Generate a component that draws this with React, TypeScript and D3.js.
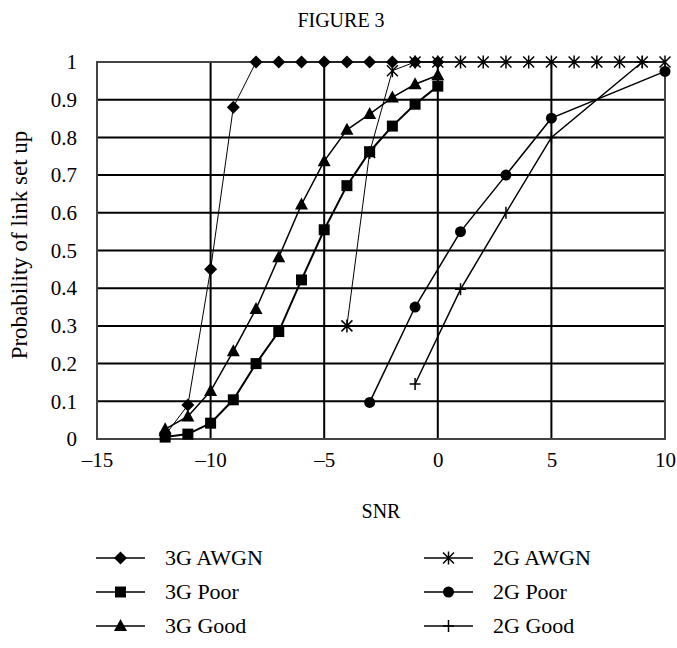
import React, { useEffect, useRef } from "react";
import * as d3 from "d3";

// SNR values and probabilities
const awgn3gX = [-12, -11, -10, -9, -8, -7, -6, -5, -4, -3, -2, -1, 0];
const awgn3gY = [0.01, 0.09, 0.45, 0.88, 1, 1, 1, 1, 1, 1, 1, 1, 1];
const poor3gX = [-12, -11, -10, -9, -8, -7, -6, -5, -4, -3, -2, -1, 0];
const poor3gY = [0.005, 0.013, 0.042, 0.104, 0.2, 0.285, 0.422, 0.555, 0.672, 0.762, 0.83, 0.888, 0.936];
const good3gX = [-12, -11, -10, -9, -8, -7, -6, -5, -4, -3, -2, -1, 0];
const good3gY = [0.026, 0.06, 0.127, 0.233, 0.345, 0.482, 0.622, 0.737, 0.82, 0.862, 0.906, 0.941, 0.965];
const awgn2gX = [-4, -3, -2, -1, 0, 1, 2, 3, 4, 5, 6, 7, 8, 9, 10];
const awgn2gY = [0.3, 0.76, 0.977, 1, 1, 1, 1, 1, 1, 1, 1, 1, 1, 1, 1];
const poor2gX = [-3, -1, 1, 3, 5, 10];
const poor2gY = [0.097, 0.35, 0.55, 0.7, 0.851, 0.975];
const good2gX = [-1, 1, 3, 5, 9];
const good2gY = [0.146, 0.397, 0.6, 0.8, 1];

const seriesNames = ["3G AWGN", "3G Poor", "3G Good", "2G AWGN", "2G Poor", "2G Good"];
const xTicks = [-15, -10, -5, 0, 5, 10];
const yTicks = [0, 0.1, 0.2, 0.3, 0.4, 0.5, 0.6, 0.7, 0.8, 0.9, 1];

const FONT = "'Liberation Serif', 'Times New Roman', serif";

const markerPath = (kind: string) => {
  switch (kind) {
    case "diamond":
      return "M0,-6.5L6.5,0L0,6.5L-6.5,0Z";
    case "square":
      return "M-5.5,-5.5H5.5V5.5H-5.5Z";
    case "triangle":
      return "M0,-7L6.5,5L-6.5,5Z";
    case "circle":
      return d3.symbol(d3.symbolCircle, 95)()!;
    case "star":
      return "M0,-6.5V6.5M-5.5,-5.5L5.5,5.5M5.5,-5.5L-5.5,5.5";
    default:
      return "M-5.5,0H5.5M0,-6V6";
  }
};

export default function App() {
  const ref = useRef<SVGSVGElement>(null);

  useEffect(() => {
    const width = 677;
    const height = 648;
    const margin = { top: 62, right: 12, bottom: 209, left: 97 };

    const x = d3.scaleLinear([-15, 10], [margin.left, width - margin.right]);
    const y = d3.scaleLinear([0, 1], [height - margin.bottom, margin.top]);

    const series = [
      { name: seriesNames[0], xs: awgn3gX, ys: awgn3gY, marker: "diamond", sw: 1 },
      { name: seriesNames[1], xs: poor3gX, ys: poor3gY, marker: "square", sw: 2 },
      { name: seriesNames[2], xs: good3gX, ys: good3gY, marker: "triangle", sw: 1.5 },
      { name: seriesNames[3], xs: awgn2gX, ys: awgn2gY, marker: "star", sw: 1 },
      { name: seriesNames[4], xs: poor2gX, ys: poor2gY, marker: "circle", sw: 1.5 },
      { name: seriesNames[5], xs: good2gX, ys: good2gY, marker: "plus", sw: 1.5 },
    ];

    const svg = d3.select(ref.current);
    svg.selectAll("*").remove();
    svg.style("font-family", FONT);

    // title
    svg.append("text")
      .attr("x", 341).attr("y", 27)
      .attr("text-anchor", "middle")
      .attr("font-size", 20)
      .text("FIGURE 3");

    // grid
    svg.append("g")
      .selectAll("line")
      .data(yTicks.slice(1, -1))
      .join("line")
      .attr("x1", x(-15)).attr("x2", x(10))
      .attr("y1", (d) => y(d)).attr("y2", (d) => y(d))
      .attr("stroke", "#000").attr("stroke-width", 2);
    svg.append("g")
      .selectAll("line")
      .data(xTicks.slice(1, -1))
      .join("line")
      .attr("y1", y(0)).attr("y2", y(1))
      .attr("x1", (d) => x(d)).attr("x2", (d) => x(d))
      .attr("stroke", "#000").attr("stroke-width", 2);

    // plot frame
    svg.append("rect")
      .attr("x", x(-15)).attr("y", y(1))
      .attr("width", x(10) - x(-15)).attr("height", y(0) - y(1))
      .attr("fill", "none").attr("stroke", "#444").attr("stroke-width", 2);

    // axes
    const xAxis = d3.axisBottom(x).tickValues(xTicks).tickSize(0).tickPadding(13)
      .tickFormat((d) => String(d).replace("-", "\u2013"));
    svg.append("g")
      .attr("transform", `translate(0,${y(0)})`)
      .call(xAxis)
      .call((g) => g.select(".domain").remove())
      .call((g) => g.selectAll(".tick text")
        .attr("fill", "#000")
        .style("font-family", FONT)
        .style("font-size", "21px"));

    const yAxis = d3.axisLeft(y).tickValues(yTicks).tickSize(0).tickPadding(20)
      .tickFormat((d) => String(d));
    svg.append("g")
      .attr("transform", `translate(${x(-15)},0)`)
      .call(yAxis)
      .call((g) => g.select(".domain").remove())
      .call((g) => g.selectAll(".tick text")
        .attr("fill", "#000")
        .style("font-family", FONT)
        .style("font-size", "21px"));

    svg.append("text")
      .attr("transform", `translate(27,245) rotate(-90)`)
      .attr("text-anchor", "middle")
      .attr("font-size", 23)
      .text("Probability of link set up");

    svg.append("text")
      .attr("x", x(-2.5)).attr("y", 518)
      .attr("text-anchor", "middle")
      .attr("font-size", 20)
      .text("SNR");

    // series
    const line = d3.line<[number, number]>().x((d) => x(d[0])).y((d) => y(d[1]));
    series.forEach((s) => {
      const pts = s.xs.map((v, i) => [v, s.ys[i]] as [number, number]);
      const g = svg.append("g");
      g.append("path")
        .attr("d", line(pts))
        .attr("fill", "none").attr("stroke", "#000").attr("stroke-width", s.sw);
      g.selectAll("path.m")
        .data(pts)
        .join("path")
        .attr("class", "m")
        .attr("transform", (d) => `translate(${x(d[0])},${y(d[1])})`)
        .attr("d", markerPath(s.marker))
        .attr("fill", s.marker === "star" || s.marker === "plus" ? "none" : "#000")
        .attr("stroke", "#000")
        .attr("stroke-width", s.marker === "star" || s.marker === "plus" ? 1.5 : 0);
    });

    // legend
    const legend = svg.append("g");
    series.forEach((s, i) => {
      const col = Math.floor(i / 3);
      const row = i % 3;
      const lx = col === 0 ? 96 : 424;
      const ly = 558 + row * 34;
      const item = legend.append("g").attr("transform", `translate(${lx},${ly})`);
      item.append("line").attr("x1", 0).attr("x2", 49).attr("stroke", "#000").attr("stroke-width", 1.5);
      item.append("path")
        .attr("transform", "translate(24.5,0)")
        .attr("d", markerPath(s.marker))
        .attr("fill", s.marker === "star" || s.marker === "plus" ? "none" : "#000")
        .attr("stroke", "#000")
        .attr("stroke-width", s.marker === "star" || s.marker === "plus" ? 1.5 : 0);
      item.append("text")
        .attr("x", 69).attr("y", 7)
        .attr("font-size", 22)
        .text(s.name);
    });
  }, []);

  return (
    <svg
      ref={ref}
      width={677}
      height={648}
      style={{ position: "absolute", left: 0, top: 0, background: "#fff" }}
    />
  );
}
